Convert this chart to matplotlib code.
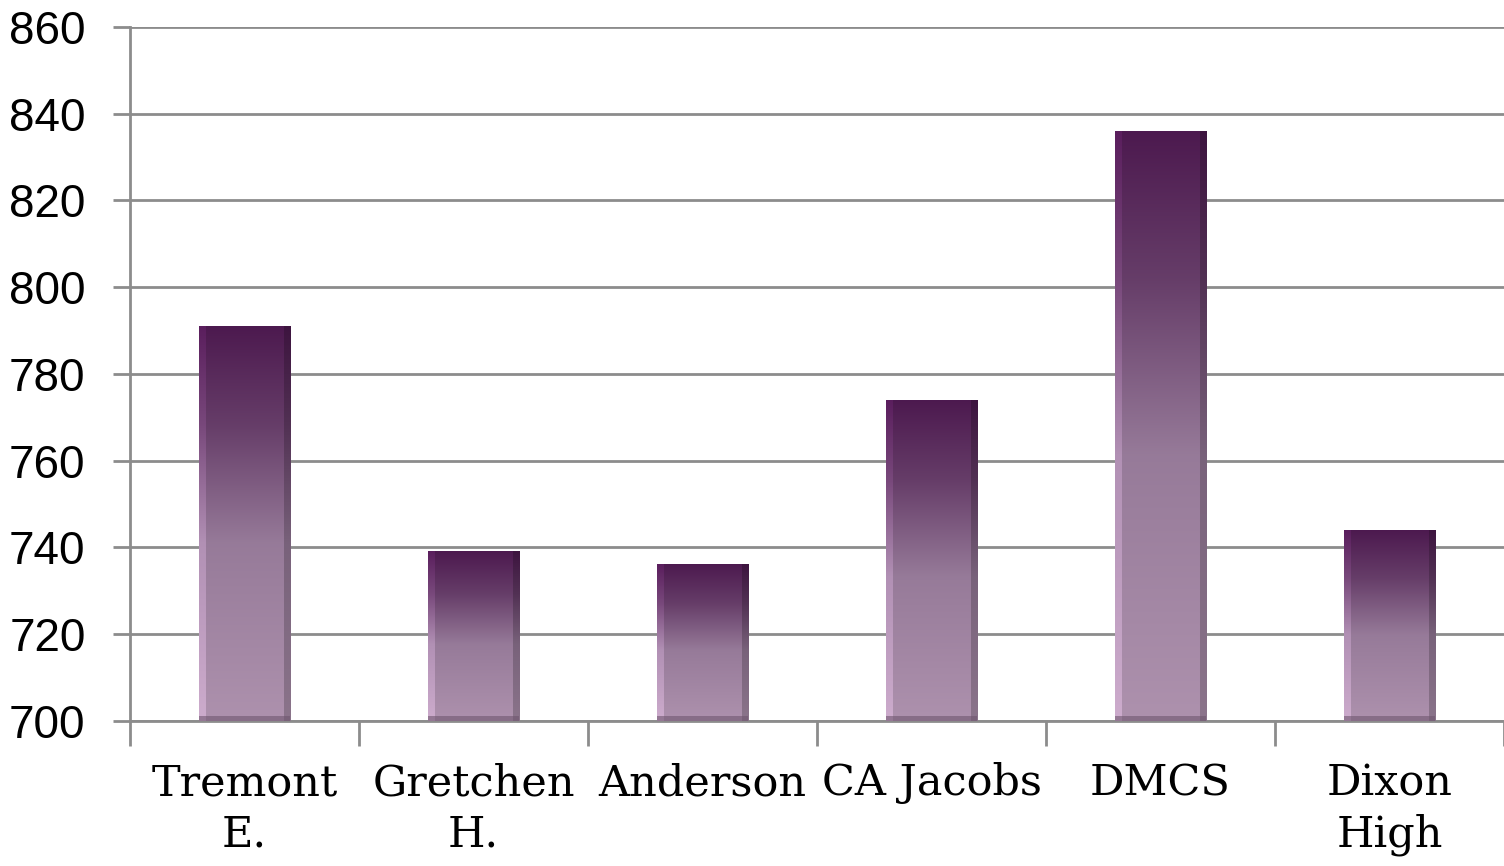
import numpy as np
import matplotlib
matplotlib.use('Agg')
from matplotlib import pyplot as plt

# Data.
schools = ['Tremont\nE.', 'Gretchen\nH.', 'Anderson', 'CA Jacobs', 'DMCS', 'Dixon\nHigh']
scores = [791, 739, 736, 774, 836, 744]

fig = plt.figure(figsize=(15.04, 8.66), dpi=100)
ax = fig.add_axes([130 / 1504, (866 - 721) / 866, 1 - 130 / 1504, (721 - 27) / 866])

x = np.arange(len(schools))
bars = ax.bar(x, [s - 700 for s in scores], bottom=700, width=0.4,
              facecolor='none', edgecolor='none', zorder=3)

# Vertical gradient: dark purple at top, pale mauve at bottom.
stops = np.array([0.0, 0.25, 0.55, 1.0])
top_rgb = np.array([[0.30, 0.10, 0.31],
                    [0.40, 0.24, 0.41],
                    [0.59, 0.48, 0.60],
                    [0.68, 0.57, 0.68]])
ny, nx = 300, 92
t = np.linspace(0, 1, ny)
col = np.stack([np.interp(t, stops, top_rgb[:, c]) for c in range(3)], axis=1)
img = np.repeat(col[:, None, :], nx, axis=1)

# Bevel shading: light left edge, dark right edge.
u = np.linspace(0, 1, nx)
shade = np.ones(nx)
shade[u < 0.07] = 1.18
shade[u > 0.93] = 0.80
img = img * shade[None, :, None]
img = np.clip(img, 0, 1)

for b in bars:
    x0, y0 = b.get_x(), b.get_y()
    ax.imshow(img, extent=[x0, x0 + b.get_width(), y0, y0 + b.get_height()],
              aspect='auto', origin='upper', zorder=3, interpolation='bilinear')
    # thin dark bevel along the bottom
    ax.bar(b.get_x() + b.get_width() / 2, 1.2, bottom=700, width=b.get_width(),
           color='#6f566f', alpha=0.6, zorder=4)

ax.set_xlim(-0.5, len(schools) - 0.5)
ax.set_ylim(700, 860)
ax.set_yticks(range(700, 861, 20))

# Category boundary ticks on x.
ax.set_xticks(np.arange(-0.5, len(schools) - 0.4, 1))
ax.set_xticklabels([])
ax.tick_params(axis='x', length=18, width=2, color='#8c8c8c')
ax.tick_params(axis='y', length=12, width=2, color='#8c8c8c', labelsize=33, pad=20)
for lab in ax.get_yticklabels():
    lab.set_fontfamily('Liberation Sans')

for i, name in enumerate(schools):
    ax.text(i, 690.5, name, ha='center', va='top', fontsize=31,
            family='DejaVu Serif', linespacing=1.28,
            transform=ax.transData, clip_on=False)

ax.yaxis.grid(True, color='#8c8c8c', linewidth=2, zorder=0)
ax.set_axisbelow(True)
for side in ['top', 'right']:
    ax.spines[side].set_visible(False)
ax.spines['left'].set_color('#8c8c8c')
ax.spines['left'].set_linewidth(2)
ax.spines['bottom'].set_color('#8c8c8c')
ax.spines['bottom'].set_linewidth(2)

fig.savefig('out.png', dpi=100)
